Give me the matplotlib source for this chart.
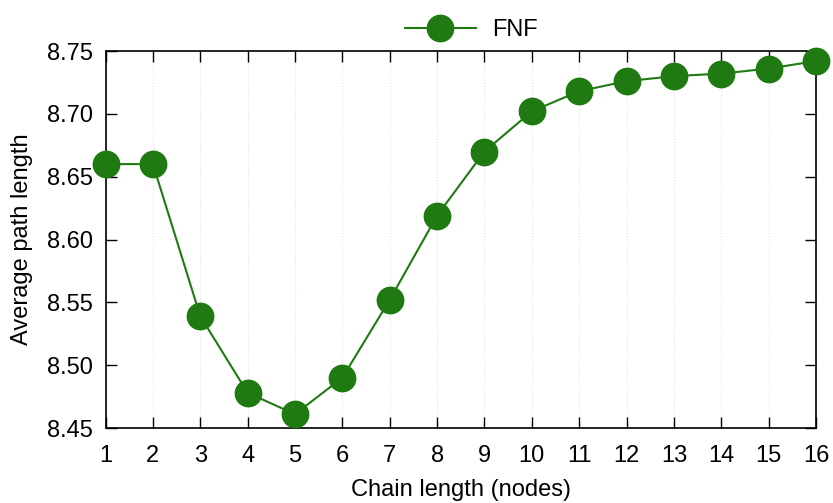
import matplotlib
matplotlib.use("Agg")
import matplotlib.pyplot as plt

plt.rcParams['font.family'] = ['Liberation Sans', 'DejaVu Sans']

chain_length = [1, 2, 3, 4, 5, 6, 7, 8, 9, 10, 11, 12, 13, 14, 15, 16]
avg_path_fnf = [8.660, 8.660, 8.539, 8.478, 8.461, 8.490, 8.552, 8.619, 8.670,
                8.702, 8.718, 8.726, 8.730, 8.732, 8.736, 8.742]
y_ticks = [8.45, 8.50, 8.55, 8.60, 8.65, 8.70, 8.75]

green = '#1f7a12'

fig = plt.figure(figsize=(8.33, 5.03), dpi=100)
ax = fig.add_axes([0.1267, 0.1491, 0.8529, 0.7495])

ax.plot(chain_length, avg_path_fnf, color=green, linewidth=1.5, marker='o',
        markersize=19, markerfacecolor=green, markeredgecolor=green,
        label='FNF', clip_on=False, zorder=3)

ax.set_xlim(1, 16)
ax.set_ylim(8.45, 8.75)
ax.set_xticks(chain_length)
ax.set_yticks(y_ticks)
ax.set_yticklabels([f'{v:.2f}' for v in y_ticks])

ax.tick_params(axis='both', direction='in', length=8, width=1, labelsize=17,
               top=True, right=True)
ax.tick_params(axis='x', pad=12)
ax.tick_params(axis='y', pad=9)
ax.grid(axis='x', color='#e0e0e0', linestyle=':', linewidth=0.8)
for s in ax.spines.values():
    s.set_linewidth(1.2)

ax.set_xlabel('Chain length (nodes)', fontsize=17, labelpad=9)
ax.set_ylabel('Average path length', fontsize=17, labelpad=10)

ax.legend(loc='lower center', bbox_to_anchor=(0.515, 0.995), frameon=False,
          fontsize=17, handlelength=3, borderaxespad=0.1, markerscale=1.0,
          handletextpad=0.7)

fig.savefig('out.png', dpi=100)
